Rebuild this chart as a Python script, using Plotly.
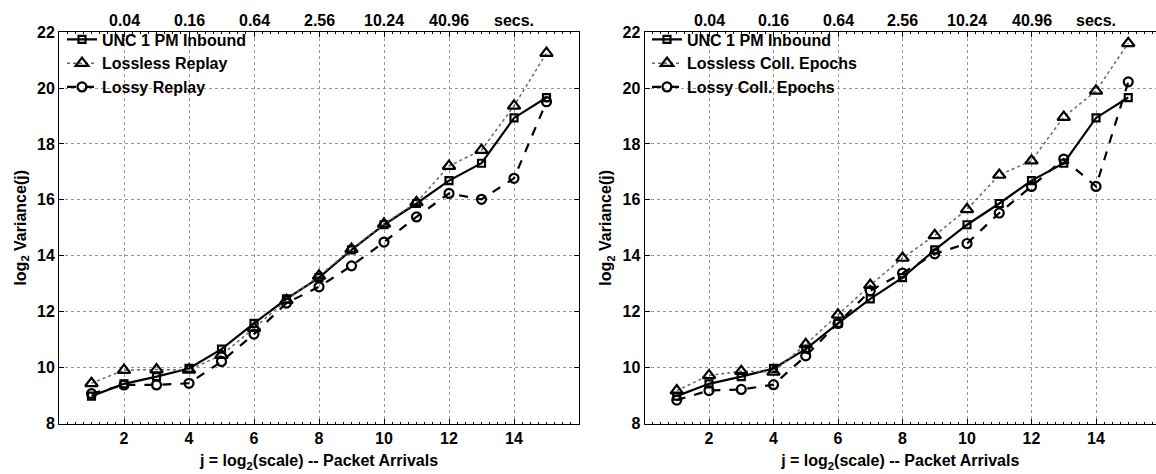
import plotly.graph_objects as go

# ---- data ----
j = list(range(1, 16))
unc_inbound = [8.98, 9.42, 9.68, 9.97, 10.66, 11.58, 12.46, 13.22, 14.21, 15.11, 15.87, 16.69, 17.31, 18.93, 19.66]
lossless_replay = [9.44, 9.91, 9.93, 9.92, 10.45, 11.41, 12.41, 13.28, 14.24, 15.14, 15.91, 17.21, 17.78, 19.36, 21.25]
lossy_replay = [9.07, 9.38, 9.38, 9.44, 10.22, 11.20, 12.31, 12.89, 13.64, 14.49, 15.39, 16.23, 16.02, 16.77, 19.51]
lossless_epochs = [9.18, 9.72, 9.87, 9.85, 10.83, 11.89, 12.95, 13.92, 14.73, 15.66, 16.89, 17.40, 18.96, 19.90, 21.60]
lossy_epochs = [8.84, 9.18, 9.22, 9.39, 10.42, 11.58, 12.75, 13.38, 14.07, 14.44, 15.53, 16.48, 17.46, 16.48, 20.22]

x_ticks = [2, 4, 6, 8, 10, 12, 14]
y_ticks = [8, 10, 12, 14, 16, 18, 20, 22]
top_ticks = [2, 4, 6, 8, 10, 12, 14]
top_labels = ["0.04", "0.16", "0.64", "2.56", "10.24", "40.96", "secs."]

FONT = "Liberation Sans, Arial, sans-serif"
W, H = 1156, 474
FS = 16

fig = go.Figure()

def add_series(x, y, name, sym, size, dash, width, color, xa, ya, legend):
    fig.add_trace(go.Scatter(
        x=x, y=y, name=name, mode="lines+markers",
        line=dict(color=color, width=width, dash=dash),
        marker=dict(symbol=sym, size=size, color="black", line=dict(color="black", width=2.2)),
        xaxis=xa, yaxis=ya, legend=legend,
    ))

# left panel
add_series(j, unc_inbound, "UNC 1 PM Inbound", "square-open", 7, "solid", 2.2, "black", "x", "y", "legend")
add_series(j, lossless_replay, "Lossless Replay", "triangle-up-open", 11, "dot", 1.5, "#666666", "x", "y", "legend")
add_series(j, lossy_replay, "Lossy Replay", "circle-open", 9, "dash", 2.2, "black", "x", "y", "legend")
# right panel
add_series(j, unc_inbound, "UNC 1 PM Inbound", "square-open", 7, "solid", 2.2, "black", "x2", "y2", "legend2")
add_series(j, lossless_epochs, "Lossless Coll. Epochs", "triangle-up-open", 11, "dot", 1.5, "#666666", "x2", "y2", "legend2")
add_series(j, lossy_epochs, "Lossy Coll. Epochs", "circle-open", 9, "dash", 2.2, "black", "x2", "y2", "legend2")

ydom = [43 / H, 449 / H]
lx = [59 / W, 579 / W]
rx = [644.5 / W, 1.0]
r_max = (W - 644.5) / 32.25

tickfont = dict(family=FONT, size=FS, color="black", weight="bold")

def xaxis_common(rng, dom, anchor):
    return dict(
        domain=dom, range=rng, tickvals=x_ticks, ticks="inside", ticklen=5,
        tickcolor="black", showline=True, linecolor="black", linewidth=1, mirror="ticks",
        showgrid=True, gridcolor="#999999", griddash="dot", gridwidth=1,
        zeroline=False, tickfont=tickfont, anchor=anchor,
        minor=dict(ticks="inside", ticklen=2, dtick=0.25, tickcolor="black", showgrid=False),
        title=dict(text="j = log<sub>2</sub>(scale) -- Packet Arrivals",
                   font=dict(family=FONT, size=FS, color="black", weight="bold"), standoff=9),
    )

def yaxis_common(anchor, mirror):
    return dict(
        domain=ydom, range=[8, 22], tickvals=y_ticks, ticks="inside", ticklen=5,
        tickcolor="black", showline=True, linecolor="black", linewidth=1, mirror=mirror,
        showgrid=True, gridcolor="#999999", griddash="dot", gridwidth=1,
        zeroline=False, tickfont=tickfont, anchor=anchor,
        title=dict(text="log<sub>2</sub> Variance(j)",
                   font=dict(family=FONT, size=FS, color="black", weight="bold"), standoff=6),
    )

legend_common = dict(
    bgcolor="rgba(0,0,0,0)", borderwidth=0, xanchor="left", yanchor="top",
    font=dict(family=FONT, size=FS, color="black", weight="bold"),
    tracegroupgap=0, itemwidth=30,
)

# top "time" scale labels, positioned through the x axes' data coordinates
annotations = []
for xr in ("x", "x2"):
    for tv, tl in zip(top_ticks, top_labels):
        annotations.append(dict(
            x=tv, xref=xr, y=(H - 13) / H, yref="paper", text=tl, showarrow=False,
            xanchor="center", yanchor="middle",
            font=dict(family=FONT, size=FS, color="black", weight="bold"),
        ))

fig.update_layout(
    width=W, height=H, margin=dict(l=0, r=0, t=0, b=0),
    paper_bgcolor="white", plot_bgcolor="white",
    font=dict(family=FONT, color="black"),
    xaxis=xaxis_common([0, 16], lx, "y"),
    yaxis=yaxis_common("x", "ticks"),
    xaxis2=xaxis_common([0, r_max], rx, "y2"),
    yaxis2=yaxis_common("x2", False),
    legend=legend_common | dict(x=62 / W, y=(H - 15) / H),
    legend2=legend_common | dict(x=647 / W, y=(H - 15) / H),
    annotations=annotations,
    showlegend=True,
)

fig.write_html("out.html")
